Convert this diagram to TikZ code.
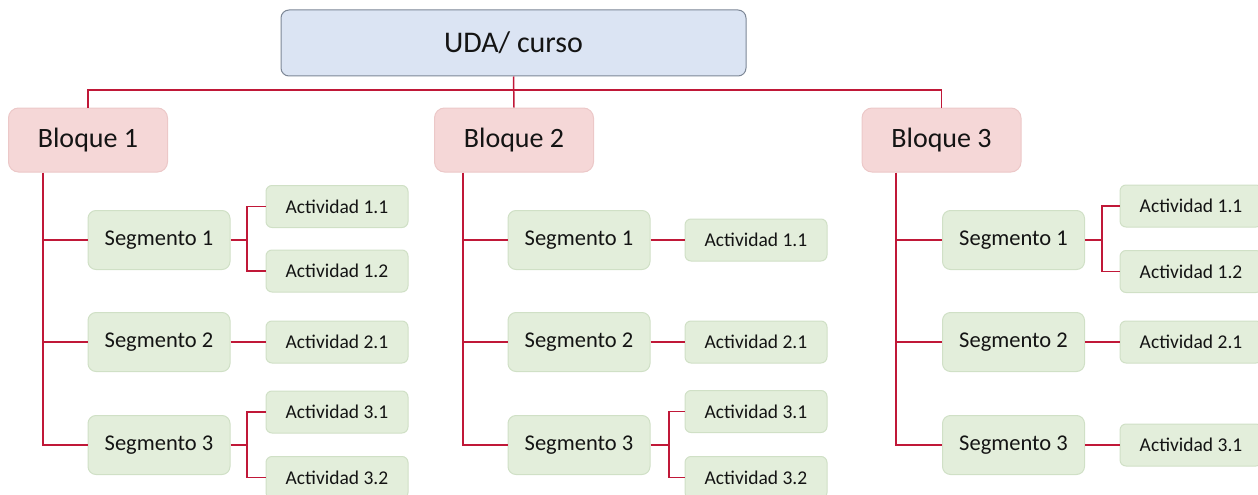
\documentclass[tikz,border=0pt]{standalone}
\usepackage{fontspec}
\setmainfont{Carlito}
\definecolor{lnred}{RGB}{192,24,56}
\definecolor{topfill}{RGB}{219,228,243}
\definecolor{topdraw}{RGB}{125,135,150}
\definecolor{blkfill}{RGB}{245,215,215}
\definecolor{blkdraw}{RGB}{236,200,200}
\definecolor{grnfill}{RGB}{227,238,219}
\definecolor{grndraw}{RGB}{208,224,198}
\begin{document}
\begin{tikzpicture}[x=1pt,y=-1pt,
  box/.style={inner sep=0pt,align=center,text=black!92},
  topbox/.style={box,draw=topdraw,fill=topfill,line width=1pt,rounded corners=8pt,minimum width=465pt,minimum height=66pt,font=\fontsize{30}{34}\selectfont},
  blkbox/.style={box,draw=blkdraw,fill=blkfill,line width=1pt,rounded corners=10pt,minimum width=159pt,minimum height=64pt,font=\fontsize{28}{32}\selectfont},
  segbox/.style={box,draw=grndraw,fill=grnfill,line width=1pt,rounded corners=8pt,minimum width=142pt,minimum height=59pt,font=\fontsize{22.5}{26}\selectfont},
  actbox/.style={box,draw=grndraw,fill=grnfill,line width=1pt,rounded corners=6pt,minimum width=142pt,minimum height=42pt,font=\fontsize{19.5}{23}\selectfont},
  conn/.style={draw=lnred,line width=1.5pt}]
\useasboundingbox (0,0) rectangle (1258,495);
\clip (0,0) rectangle (1258,495);
% top
\node[topbox] (top) at (513.5,43) {UDA/ curso};
% blocks
\node[blkbox] (b1) at (88,140) {Bloque 1};
\node[blkbox] (b2) at (514,140) {Bloque 2};
\node[blkbox] (b3) at (941.5,140) {Bloque 3};
% segments
\node[segbox] (s11) at (159,240) {Segmento 1};
\node[segbox] (s12) at (159,342) {Segmento 2};
\node[segbox] (s13) at (159,445) {Segmento 3};
\node[segbox] (s21) at (579,240) {Segmento 1};
\node[segbox] (s22) at (579,342) {Segmento 2};
\node[segbox] (s23) at (579,445) {Segmento 3};
\node[segbox] (s31) at (1013.5,240) {Segmento 1};
\node[segbox] (s32) at (1013.5,342) {Segmento 2};
\node[segbox] (s33) at (1013.5,445) {Segmento 3};
% activities block 1
\node[actbox] (a111) at (337,206.5) {Actividad 1.1};
\node[actbox] (a112) at (337,271) {Actividad 1.2};
\node[actbox] (a121) at (337,342) {Actividad 2.1};
\node[actbox] (a131) at (337,412) {Actividad 3.1};
\node[actbox] (a132) at (337,477.5) {Actividad 3.2};
% activities block 2
\node[actbox] (a211) at (756,240) {Actividad 1.1};
\node[actbox] (a221) at (756,342) {Actividad 2.1};
\node[actbox] (a231) at (756,411.5) {Actividad 3.1};
\node[actbox] (a232) at (756,477.5) {Actividad 3.2};
% activities block 3
\node[actbox] (a311) at (1191,206) {Actividad 1.1};
\node[actbox] (a312) at (1191,271.5) {Actividad 1.2};
\node[actbox] (a321) at (1191,342) {Actividad 2.1};
\node[actbox] (a331) at (1191,445) {Actividad 3.1};
% helper coordinates
\coordinate (bus) at (514,90);
\coordinate (t1) at (43,0);
\coordinate (t2) at (463,0);
\coordinate (t3) at (896,0);
\coordinate (k11) at (247,0);
\coordinate (k13) at (247,0);
\coordinate (k23) at (669,0);
\coordinate (k31) at (1102,0);
% connectors level 1
\draw[conn] (top.south) -- (b2.north);
\draw[conn] (b1.north) |- (bus) -| (b3.north);
% trunks
\draw[conn] (b1.south -| t1) |- (s13.west);
\draw[conn] (t1 |- s11.west) -- (s11.west);
\draw[conn] (t1 |- s12.west) -- (s12.west);
\draw[conn] (b2.south -| t2) |- (s23.west);
\draw[conn] (t2 |- s21.west) -- (s21.west);
\draw[conn] (t2 |- s22.west) -- (s22.west);
\draw[conn] (b3.south -| t3) |- (s33.west);
\draw[conn] (t3 |- s31.west) -- (s31.west);
\draw[conn] (t3 |- s32.west) -- (s32.west);
% segment to activities
\draw[conn] (s11.east) -- (k11 |- s11.east);
\draw[conn] (a111.west) -| (k11 |- a111.west) |- (a112.west);
\draw[conn] (s12.east) -- (a121.west);
\draw[conn] (s13.east) -- (k13 |- s13.east);
\draw[conn] (a131.west) -| (k13 |- a131.west) |- (a132.west);
\draw[conn] (s21.east) -- (a211.west);
\draw[conn] (s22.east) -- (a221.west);
\draw[conn] (s23.east) -- (k23 |- s23.east);
\draw[conn] (a231.west) -| (k23 |- a231.west) |- (a232.west);
\draw[conn] (s31.east) -- (k31 |- s31.east);
\draw[conn] (a311.west) -| (k31 |- a311.west) |- (a312.west);
\draw[conn] (s32.east) -- (a321.west);
\draw[conn] (s33.east) -- (a331.west);
\end{tikzpicture}
\end{document}
